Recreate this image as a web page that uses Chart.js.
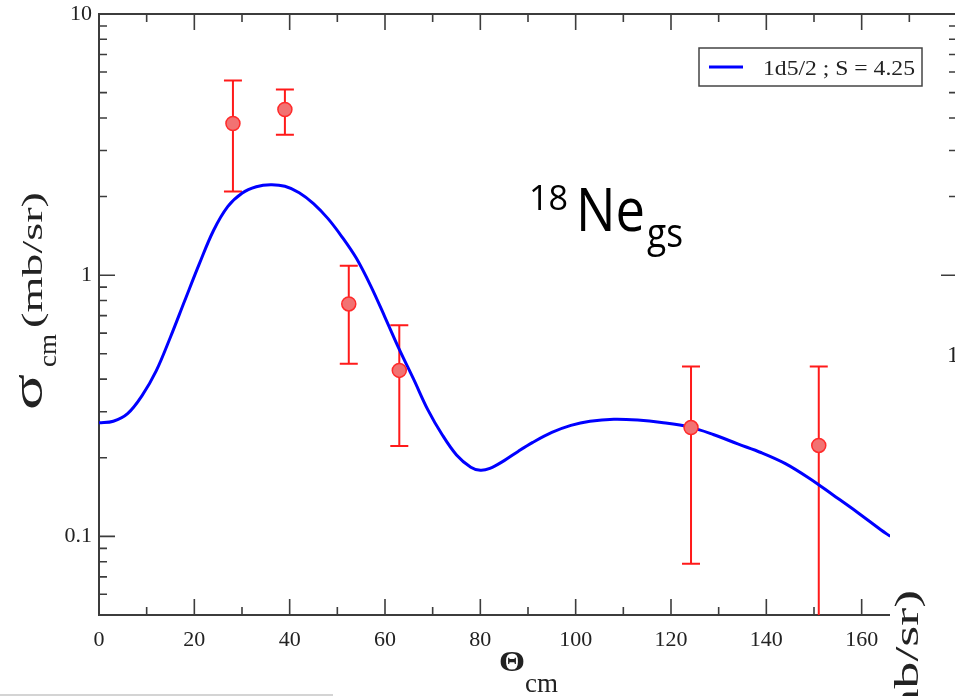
<!DOCTYPE html>
<html>
<head>
<meta charset="utf-8">
<script src="https://cdn.jsdelivr.net/npm/chart.js@4.4.0/dist/chart.umd.min.js"></script>
<style>
html, body { margin: 0; padding: 0; background: #fff; overflow: hidden; }
#wrap { width: 960px; height: 696px; }
</style>
</head>
<body>
<div id="wrap"><canvas id="chart" width="960" height="696"></canvas></div>
<script>
// theory curve (1d5/2, S = 4.25)
var curveAngles = [0, 3, 6, 9, 12, 15, 18, 21, 24, 27, 30, 33, 36, 39, 42, 45, 48, 51, 54, 57, 60, 63, 66, 69, 72, 75, 78, 80, 82, 85, 88, 91, 95, 99, 103, 108, 113, 118, 124, 129, 134, 139, 144, 149, 154, 159, 164, 166];
var curveValues = [0.272, 0.276, 0.295, 0.345, 0.43, 0.58, 0.80, 1.10, 1.48, 1.83, 2.06, 2.18, 2.22, 2.19, 2.07, 1.88, 1.65, 1.40, 1.16, 0.91, 0.69, 0.52, 0.40, 0.305, 0.245, 0.205, 0.184, 0.179, 0.182, 0.195, 0.212, 0.229, 0.250, 0.266, 0.276, 0.281, 0.279, 0.273, 0.262, 0.245, 0.226, 0.209, 0.19, 0.167, 0.144, 0.124, 0.106, 0.100];

// measured points with error bars
var dataAngles = [28.1, 39.0, 52.4, 63.0, 124.2, 151.0];
var dataValues = [3.81, 4.31, 0.776, 0.432, 0.261, 0.223];
var dataLow = [2.09, 3.45, 0.458, 0.222, 0.0785, 0.04];
var dataHigh = [5.56, 5.14, 1.087, 0.643, 0.447, 0.447];

var xMajorTicks = [0, 20, 40, 60, 80, 100, 120, 140, 160];
var xMinorTicks = [10, 30, 50, 70, 90, 110, 130, 150, 170];
var yMajorTicks = [0.1, 1, 10];
var yMinorTicks = [0.05, 0.06, 0.07, 0.08, 0.09, 0.2, 0.3, 0.4, 0.5, 0.6, 0.7, 0.8, 0.9, 2, 3, 4, 5, 6, 7, 8, 9];
var legendLabel = '1d5/2 ; S = 4.25';

var serif = '"Liberation Serif", "DejaVu Serif", serif';
var sans = '"Open Sans", "Noto Sans", sans-serif';
var axisColor = '#3c3c3c';

function fitText(ctx, text, x, y, w) {
	var m = ctx.measureText(text).width;
	ctx.save();
	ctx.translate(x, y);
	ctx.scale(w / m, 1);
	ctx.fillText(text, 0, 0);
	ctx.restore();
}

var errorBars = {
	id: 'errorBars',
	beforeDatasetsDraw: (chart) => {
		var ctx = chart.ctx, xs = chart.scales.x, ys = chart.scales.y, a = chart.chartArea;
		ctx.save();
		ctx.beginPath();
		ctx.rect(a.left, a.top, a.right - a.left, a.bottom - a.top);
		ctx.clip();
		ctx.strokeStyle = '#ff1a1a';
		ctx.lineWidth = 2;
		for (var i = 0; i < dataAngles.length; i++) {
			var px = xs.getPixelForValue(dataAngles[i]);
			var lo = ys.getPixelForValue(dataLow[i]);
			var hi = ys.getPixelForValue(dataHigh[i]);
			ctx.beginPath();
			ctx.moveTo(px, lo); ctx.lineTo(px, hi);
			ctx.moveTo(px - 9, lo); ctx.lineTo(px + 9, lo);
			ctx.moveTo(px - 9, hi); ctx.lineTo(px + 9, hi);
			ctx.stroke();
		}
		ctx.restore();
	}
};

var decorations = {
	id: 'decorations',
	afterDraw: (chart) => {
		var ctx = chart.ctx, xs = chart.scales.x, ys = chart.scales.y, a = chart.chartArea;
		ctx.save();
		ctx.strokeStyle = axisColor;

		// top frame line runs across
		ctx.lineWidth = 2;
		ctx.beginPath();
		ctx.moveTo(a.left, a.top); ctx.lineTo(chart.width, a.top);
		ctx.stroke();

		// inward ticks
		ctx.lineWidth = 1.6;
		ctx.beginPath();
		xMajorTicks.forEach(v => {
			var p = xs.getPixelForValue(v);
			ctx.moveTo(p, a.bottom); ctx.lineTo(p, a.bottom - 16);
			ctx.moveTo(p, a.top); ctx.lineTo(p, a.top + 16);
		});
		xMinorTicks.forEach(v => {
			var p = xs.getPixelForValue(v);
			ctx.moveTo(p, a.bottom); ctx.lineTo(p, a.bottom - 8);
			ctx.moveTo(p, a.top); ctx.lineTo(p, a.top + 8);
		});
		yMajorTicks.forEach(v => {
			var p = ys.getPixelForValue(v);
			ctx.moveTo(a.left, p); ctx.lineTo(a.left + 16, p);
			ctx.moveTo(a.right, p); ctx.lineTo(a.right - 16, p);
		});
		yMinorTicks.forEach(v => {
			var p = ys.getPixelForValue(v);
			ctx.moveTo(a.left, p); ctx.lineTo(a.left + 8, p);
			ctx.moveTo(a.right, p); ctx.lineTo(a.right - 8, p);
		});
		ctx.stroke();

		// the pasted neighbour panel covers the lower right corner
		ctx.fillStyle = '#fff';
		ctx.fillRect(890, 286, chart.width - 890, chart.height - 286);
		ctx.fillStyle = '#222';
		ctx.font = '24px ' + serif;
		ctx.textBaseline = 'alphabetic';
		ctx.fillText('1', 947, 362);
		ctx.save();
		ctx.translate(918, 590 + 158);
		ctx.rotate(-Math.PI / 2);
		ctx.font = '34px ' + serif;
		fitText(ctx, '(mb/sr)', 0, 0, 158);
		ctx.restore();
		ctx.strokeStyle = '#d4d4d4';
		ctx.lineWidth = 2;
		ctx.beginPath();
		ctx.moveTo(0, 695); ctx.lineTo(333, 695);
		ctx.stroke();

		// y axis title
		ctx.fillStyle = '#222';
		ctx.save();
		ctx.translate(42, 410);
		ctx.rotate(-Math.PI / 2);
		ctx.font = '44px ' + serif;
		fitText(ctx, 'σ', 0, 0, 36);
		ctx.font = '26px ' + serif;
		fitText(ctx, 'cm', 43, 14, 33);
		ctx.font = '30px ' + serif;
		fitText(ctx, '(mb/sr)', 82, 0, 136);
		ctx.restore();

		// x axis title
		ctx.font = 'bold 30px ' + serif;
		fitText(ctx, 'Θ', 499, 671, 26);
		ctx.font = '27px ' + serif;
		fitText(ctx, 'cm', 525, 692, 33);

		// nucleus label
		ctx.fillStyle = '#000';
		ctx.font = '35px ' + sans;
		fitText(ctx, '18', 529, 210, 39);
		ctx.font = '60px ' + sans;
		fitText(ctx, 'Ne', 576, 231, 69);
		ctx.font = '40px ' + sans;
		fitText(ctx, 'gs', 647, 247, 36);

		// legend box
		var ds = chart.data.datasets[0];
		ctx.fillStyle = '#fff';
		ctx.fillRect(699, 48, 223, 38);
		ctx.strokeStyle = '#444';
		ctx.lineWidth = 1.5;
		ctx.strokeRect(699, 48, 223, 38);
		ctx.strokeStyle = ds.borderColor;
		ctx.lineWidth = 3;
		ctx.beginPath();
		ctx.moveTo(709, 67); ctx.lineTo(743, 67);
		ctx.stroke();
		ctx.fillStyle = '#222';
		ctx.font = '22px ' + serif;
		fitText(ctx, ds.label, 763, 75, 152);

		ctx.restore();
	}
};

var context = document.getElementById('chart').getContext('2d');
var chart = new Chart(context, {
	data: {
		datasets: [{
			type: 'line',
			label: legendLabel,
			data: curveAngles.map((x, i) => ({ x: x, y: curveValues[i] })),
			borderColor: '#0000ff',
			borderWidth: 3,
			pointRadius: 0,
			tension: 0.35,
			fill: false,
			order: 2
		}, {
			type: 'scatter',
			label: 'data',
			data: dataAngles.map((x, i) => ({ x: x, y: dataValues[i] })),
			backgroundColor: '#f27272',
			borderColor: '#ff2a2a',
			borderWidth: 1.5,
			pointRadius: 7,
			order: 1
		}]
	},
	options: {
		responsive: false,
		animation: false,
		layout: { autoPadding: false, padding: { top: 14, right: 3, left: 0, bottom: 0 } },
		plugins: {
			legend: { display: false },
			tooltip: { enabled: false }
		},
		scales: {
			x: {
				type: 'linear',
				min: 0,
				max: 180,
				afterFit: (s) => { s.height = 81; s.paddingLeft = 0; s.paddingRight = 0; },
				afterBuildTicks: (s) => { s.ticks = xMajorTicks.map(v => ({ value: v })); },
				grid: { display: false, drawTicks: false },
				border: { display: true, color: axisColor, width: 2 },
				ticks: {
					padding: 12,
					maxRotation: 0,
					color: '#222',
					font: { family: serif, size: 22 },
					callback: (v) => String(v)
				}
			},
			y: {
				type: 'logarithmic',
				min: 0.05,
				max: 10,
				afterFit: (s) => { s.width = 99; s.paddingTop = 0; s.paddingBottom = 0; },
				afterBuildTicks: (s) => { s.ticks = yMajorTicks.map(v => ({ value: v })); },
				grid: { display: false, drawTicks: false },
				border: { display: true, color: axisColor, width: 2 },
				ticks: {
					padding: 7,
					color: '#222',
					font: { family: serif, size: 22 },
					autoSkip: false,
					callback: (v) => String(v)
				}
			}
		}
	},
	plugins: [errorBars, decorations]
});
</script>
</body>
</html>
